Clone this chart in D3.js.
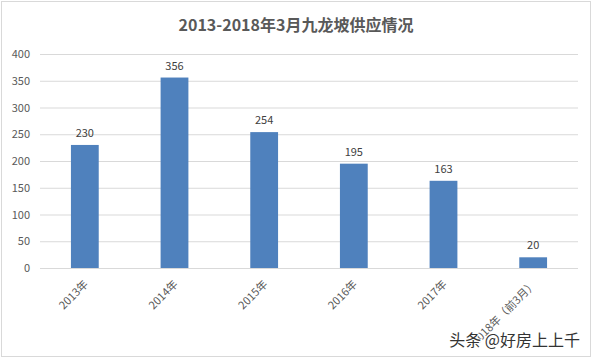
<!DOCTYPE html>
<html>
<head>
<meta charset="utf-8">
<script src="https://cdn.jsdelivr.net/npm/d3@7"></script>
<style>
body { margin: 0; background: #fff; }
text { font-family: "Microsoft YaHei", "Noto Sans CJK SC", sans-serif; }
</style>
</head>
<body>
<svg id="chart" width="592" height="361"></svg>
<script>
// data
var categories = ["2013年", "2014年", "2015年", "2016年", "2017年", "2018年（前3月）"];
var values = [230, 356, 254, 195, 163, 20];
var yTicks = [0, 50, 100, 150, 200, 250, 300, 350, 400];
var title = "2013-2018年3月九龙坡供应情况";

var svg = d3.select("#chart");
var margin = {top: 54, right: 14, bottom: 93, left: 40},
	width = 592 - margin.left - margin.right,
	height = 361 - margin.top - margin.bottom;

// outer border
svg.append("rect")
	.attr("x", 1.5).attr("y", 1.5)
	.attr("width", 589).attr("height", 355)
	.attr("fill", "none")
	.attr("stroke", "#d9d9d9");

svg.append("text")
	.attr("x", 296).attr("y", 31)
	.attr("text-anchor", "middle")
	.style("font-size", "16px")
	.style("font-weight", "bold")
	.attr("fill", "#595959")
	.text(title);

var g = svg.append("g").attr("transform", "translate(" + margin.left + "," + margin.top + ")");

var x = d3.scaleBand().domain(categories).range([0, width]).paddingInner(0.69).paddingOuter(0.345);
var y = d3.scaleLinear().domain([0, 400]).range([height, 0]);

// gridlines
g.selectAll(".grid").data(yTicks).enter().append("line")
	.attr("x1", 0).attr("x2", width)
	.attr("y1", d => y(d) + 0.5).attr("y2", d => y(d) + 0.5)
	.attr("stroke", "#d9d9d9");

// y axis labels
var yAxis = d3.axisLeft(y).tickValues(yTicks).tickSize(0).tickPadding(10);
g.append("g").call(yAxis)
	.call(s => s.select(".domain").remove())
	.selectAll("text")
	.style("font-size", "11px")
	.attr("fill", "#595959");

// bars
g.selectAll(".bar").data(values).enter().append("rect")
	.attr("x", (d, i) => x(categories[i]))
	.attr("y", d => y(d))
	.attr("width", x.bandwidth())
	.attr("height", d => height - y(d))
	.attr("fill", "#4f81bd");

// value labels
g.selectAll(".val").data(values).enter().append("text")
	.attr("x", (d, i) => x(categories[i]) + x.bandwidth() / 2)
	.attr("y", d => y(d) - 8)
	.attr("text-anchor", "middle")
	.style("font-size", "11px")
	.attr("fill", "#404040")
	.text(d => d);

// x axis labels
var xAxis = d3.axisBottom(x).tickSize(0).tickPadding(0);
g.append("g").attr("transform", "translate(0," + height + ")").call(xAxis)
	.call(s => s.select(".domain").remove())
	.selectAll("text")
	.style("font-size", "11px")
	.attr("fill", "#595959")
	.attr("text-anchor", "end")
	.attr("dy", null)
	.attr("y", 0)
	.attr("transform", "translate(4,17) rotate(-45)");

// watermark
svg.append("text")
	.attr("x", 580).attr("y", 346)
	.attr("text-anchor", "end")
	.style("font-size", "16px")
	.attr("fill", "#333")
	.attr("stroke", "#fff")
	.attr("stroke-width", 2)
	.attr("paint-order", "stroke")
	.text("头条 @好房上上千");
</script>
</body>
</html>
